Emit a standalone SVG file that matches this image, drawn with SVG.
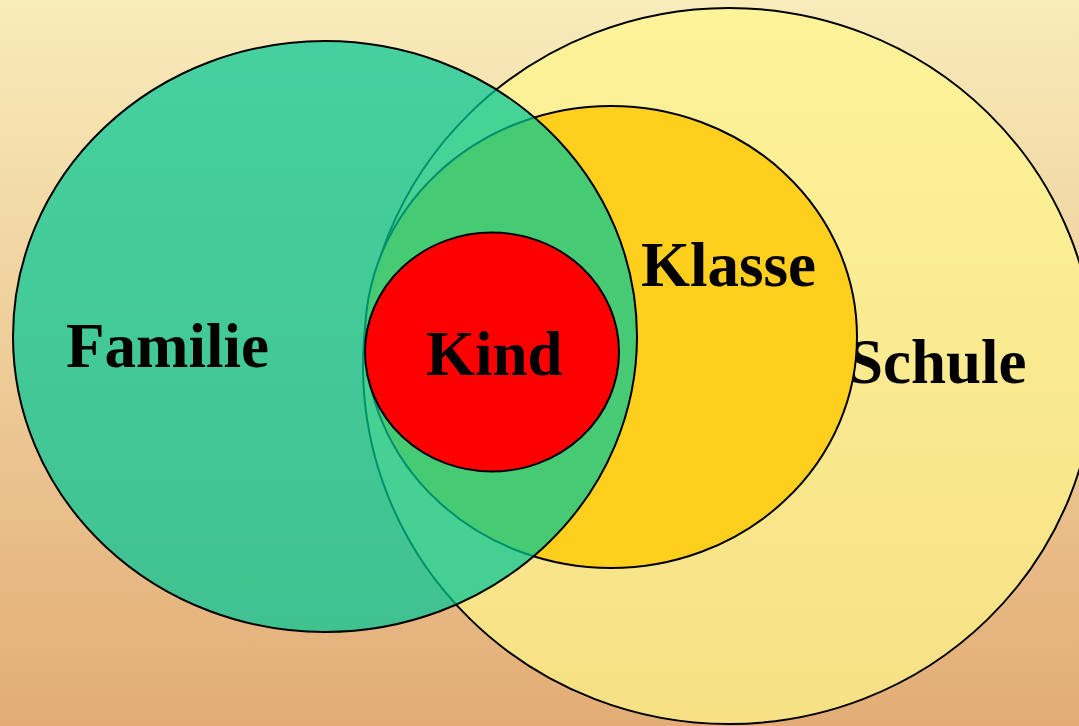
<svg xmlns="http://www.w3.org/2000/svg" width="1079" height="726" viewBox="0 0 1079 726">
  <defs>
    <linearGradient id="bg" x1="0" y1="0" x2="0" y2="1">
      <stop offset="0" stop-color="#F8ECBA"/>
      <stop offset="1" stop-color="#E3AC76"/>
    </linearGradient>
  </defs>
  <style>
    .ring { stroke: #000; stroke-width: 2; }
    .lbl { font-family: "Liberation Serif", "Times New Roman", serif; font-weight: bold; font-size: 63px; fill: #000; }
  </style>
  <rect x="0" y="0" width="1079" height="726" fill="url(#bg)"/>
  <g id="schule">
    <ellipse cx="729" cy="366" rx="366" ry="358" fill="#FFF68C" fill-opacity="0.7" class="ring"/>
    <text class="lbl" x="848" y="383">Schule</text>
  </g>
  <g id="klasse">
    <ellipse cx="611" cy="337" rx="246" ry="231" fill="#FFCF1E" class="ring"/>
    <text class="lbl" x="641" y="286">Klasse</text>
  </g>
  <g id="familie">
    <ellipse cx="325" cy="336.5" rx="312" ry="295.5" fill="#00C896" fill-opacity="0.72" class="ring"/>
    <text class="lbl" x="66" y="367">Familie</text>
  </g>
  <g id="kind">
    <ellipse cx="492" cy="352" rx="127" ry="119.5" fill="#FF0000" class="ring"/>
    <text class="lbl" x="426" y="375">Kind</text>
  </g>
  <g id="connectors"/>
</svg>
